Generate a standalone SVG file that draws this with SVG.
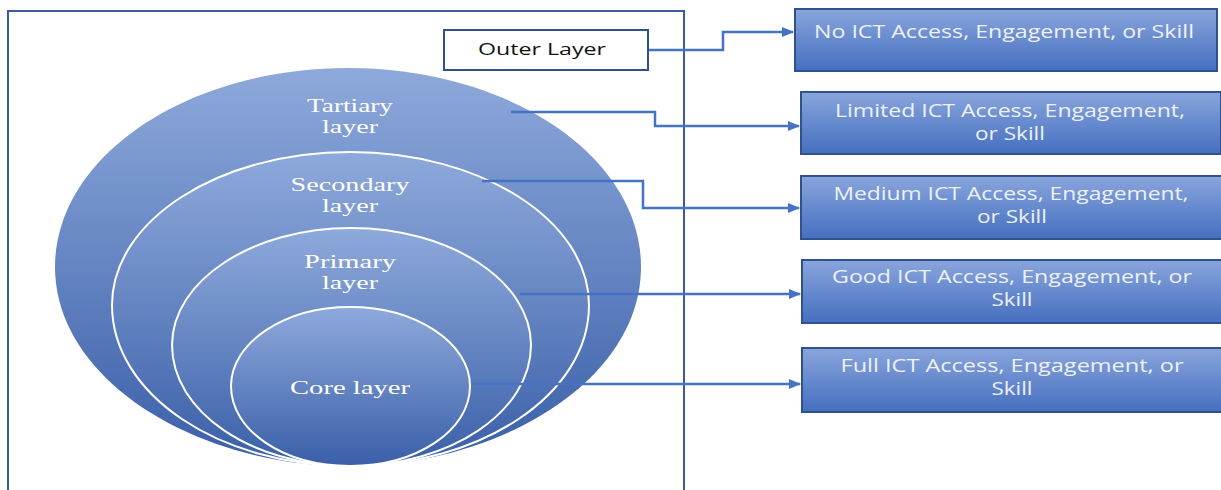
<svg xmlns="http://www.w3.org/2000/svg" width="1221" height="490" viewBox="0 0 1221 490">
<defs>
<linearGradient id="gEll" x1="0" y1="0" x2="0" y2="1">
<stop offset="0" stop-color="#8ea9db"/>
<stop offset="1" stop-color="#3a5fa8"/>
</linearGradient>
<linearGradient id="gBox" x1="0" y1="0" x2="0" y2="1">
<stop offset="0" stop-color="#89a5dc"/>
<stop offset="1" stop-color="#456fc0"/>
</linearGradient>
<marker id="arr" viewBox="0 0 10 10" refX="9" refY="5" markerWidth="5" markerHeight="5" orient="auto" markerUnits="strokeWidth">
<path d="M0,1 L10,5 L0,9 z" fill="#4472c4"/>
</marker>
<style>
.ell{fill:url(#gEll);}
.inner{stroke:#ffffff;stroke-width:2;}
.lt{font-family:"Liberation Serif","Times New Roman",serif;font-size:19px;fill:#ffffff;text-anchor:middle;}
.box{fill:url(#gBox);stroke:#2f528f;stroke-width:2;}
.bt{font-family:"Open Sans","Liberation Sans",sans-serif;font-size:18px;fill:#edf1f9;text-anchor:middle;}
.con{fill:none;stroke:#4472c4;stroke-width:2.5;marker-end:url(#arr);}
</style>
</defs>
<rect width="1221" height="490" fill="#ffffff"/>
<g id="frame">
<path d="M8,492 L8,11 L684,11 L684,492" fill="none" stroke="#3b5b9b" stroke-width="2"/>
</g>
<g id="outer-layer">
<rect x="444" y="30" width="204" height="40" fill="#ffffff" stroke="#2f528f" stroke-width="2"/>
<text x="542" y="55" font-family="'Open Sans','Liberation Sans',sans-serif" font-size="17" fill="#111111" text-anchor="middle" textLength="128" lengthAdjust="spacingAndGlyphs">Outer Layer</text>
</g>
<g id="tartiary">
<path class="ell" d="M55,267 C55,157 186,68 348,68 C510,68 641,157 641,267 C641,380 500,466 348,466 C196,466 55,380 55,267 Z"/>
<text class="lt" x="350" y="112" textLength="86" lengthAdjust="spacingAndGlyphs">Tartiary</text>
<text class="lt" x="350" y="133" textLength="56" lengthAdjust="spacingAndGlyphs">layer</text>
</g>
<g id="secondary">
<path class="ell inner" d="M112,305 C112,221 218,152 350,152 C482,152 589,221 589,305 C589,395 480,466 350,466 C220,466 112,395 112,305 Z"/>
<text class="lt" x="350" y="191" textLength="119" lengthAdjust="spacingAndGlyphs">Secondary</text>
<text class="lt" x="350" y="212" textLength="56" lengthAdjust="spacingAndGlyphs">layer</text>
</g>
<g id="primary">
<path class="ell inner" d="M172,345 C172,281 252,228 351,228 C450,228 531,281 531,345 C531,412 450,466 351,466 C252,466 172,412 172,345 Z"/>
<text class="lt" x="350" y="268" textLength="92" lengthAdjust="spacingAndGlyphs">Primary</text>
<text class="lt" x="350" y="289" textLength="56" lengthAdjust="spacingAndGlyphs">layer</text>
</g>
<g id="core">
<path class="ell inner" d="M231,386 C231,343 284,307 350,307 C416,307 470,343 470,386 C470,431 416,466 350,466 C284,466 231,431 231,386 Z"/>
<text class="lt" x="350" y="394" textLength="120" lengthAdjust="spacingAndGlyphs">Core layer</text>
</g>
<g id="no-ict">
<rect class="box" x="795" y="9" width="422" height="62"/>
<text class="bt" x="1004" y="38" textLength="380" lengthAdjust="spacingAndGlyphs">No ICT Access, Engagement, or Skill</text>
</g>
<g id="limited-ict">
<rect class="box" x="801" y="92" width="420" height="62"/>
<text class="bt" x="1010" y="117" textLength="350" lengthAdjust="spacingAndGlyphs">Limited ICT Access, Engagement,</text>
<text class="bt" x="1010" y="140" textLength="70" lengthAdjust="spacingAndGlyphs">or Skill</text>
</g>
<g id="medium-ict">
<rect class="box" x="801" y="176" width="421" height="63"/>
<text class="bt" x="1011" y="200" textLength="355" lengthAdjust="spacingAndGlyphs">Medium ICT Access, Engagement,</text>
<text class="bt" x="1012" y="223" textLength="70" lengthAdjust="spacingAndGlyphs">or Skill</text>
</g>
<g id="good-ict">
<rect class="box" x="802" y="260" width="421" height="63"/>
<text class="bt" x="1012" y="283" textLength="360" lengthAdjust="spacingAndGlyphs">Good ICT Access, Engagement, or</text>
<text class="bt" x="1012" y="306" textLength="41" lengthAdjust="spacingAndGlyphs">Skill</text>
</g>
<g id="full-ict">
<rect class="box" x="802" y="348" width="421" height="64"/>
<text class="bt" x="1012" y="372" textLength="343" lengthAdjust="spacingAndGlyphs">Full ICT Access, Engagement, or</text>
<text class="bt" x="1012" y="395" textLength="41" lengthAdjust="spacingAndGlyphs">Skill</text>
</g>
<g id="connectors">
<path class="con" d="M649,50 L723,50 L723,32 L793,32"/>
<path class="con" d="M511,112 L655,112 L655,126 L799,126"/>
<path class="con" d="M482,181 L643,181 L643,208 L799,208"/>
<path class="con" d="M520,294 L800,294"/>
<path class="con" d="M472,384 L800,384"/>
</g>
</svg>
